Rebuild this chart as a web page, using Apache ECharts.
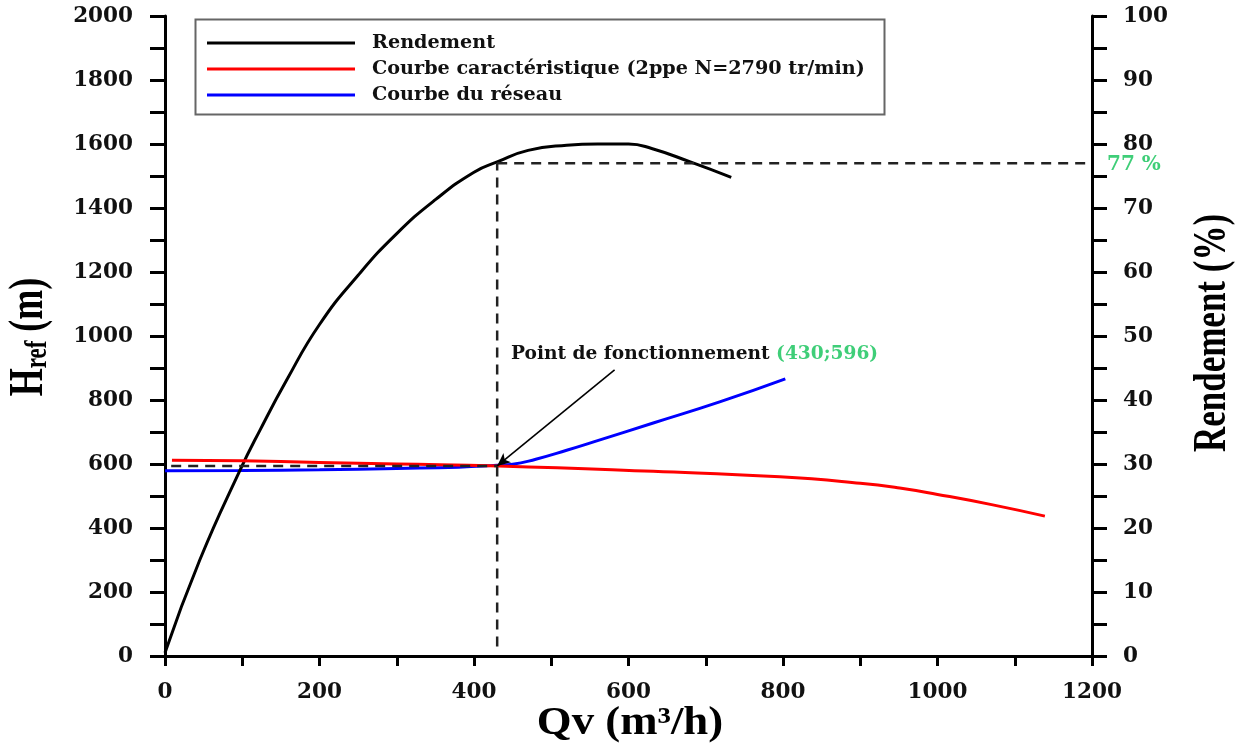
<!DOCTYPE html>
<html lang="fr">
  <head>
    <meta charset="UTF-8" />
    <title>Point de fonctionnement</title>
    <script src="https://cdn.jsdelivr.net/npm/echarts@6/dist/echarts.min.js"></script>
    <style>
      html,
      body {
        margin: 0;
        padding: 0;
        background: #fff;
      }
      #chart {
        width: 1246px;
        height: 744px;
      }
    </style>
  </head>
  <body>
    <div id="chart"></div>
    <script>
      // Rendement (%) en fonction du débit Qv (m3/h)
      const rendement = [
        [0, 0.5], [45, 15], [97, 29], [123, 35.3], [157, 43], [200, 51.8],
        [250, 59.5], [300, 66], [350, 71.3], [400, 75.6], [430, 77.2],
        [470, 79], [520, 79.8], [560, 80], [600, 80], [630, 79.3],
        [680, 77.2], [733, 74.8],
      ];
      // Courbe caractéristique H (m)
      const caracteristique = [
        [9, 612], [100, 610], [200, 605], [300, 600], [432, 594], [632, 577],
        [796, 560], [900, 540], [951, 525], [1000, 505], [1070, 473], [1139, 437],
      ];
      // Courbe du réseau H (m)
      const reseau = [
        [0, 579], [100, 580], [200, 582], [300, 586], [380, 590], [430, 596],
        [450, 599], [480, 615], [520, 643], [560, 673], [632, 728], [718, 794],
        [803, 866],
      ];
      // point de fonctionnement et repères pointillés
      const opPoint = [430, 594];
      const opRendement = 77;
      const arrowFrom = [582, 894];
      const dashH = [[8, 594], [430, 594]];
      const dashV = [[430, 1.5], [430, 77]];
      const dash77 = [[430, 77], [1200, 77]];

      const names = [
        "Rendement",
        "Courbe caractéristique (2ppe N=2790 tr/min)",
        "Courbe du réseau",
      ];

      const tickFont = {
        fontFamily: "DejaVu Serif",
        fontWeight: "bold",
        fontSize: 21.5,
        color: "#111",
        formatter: (v) => String(v),
      };
      const titleFont = "Liberation Serif";
      const green = "#3fce78";

      const dashStyle = { color: "#222", width: 2.5, type: [10, 7] };

      const chart = echarts.init(document.getElementById("chart"));

      const option = {
        backgroundColor: "#fff",
        animation: false,
        grid: { left: 165, right: 154, top: 16, bottom: 88 },
        legend: {
          orient: "vertical",
          left: 202,
          top: 27,
          padding: 5,
          itemWidth: 148,
          itemHeight: 3,
          itemGap: 4,
          icon: "rect",
          data: names,
          textStyle: {
            fontFamily: "DejaVu Serif",
            fontWeight: "bold",
            fontSize: 19.2,
            lineHeight: 22,
            color: "#111",
            padding: [0, 0, 0, 12],
          },
        },
        xAxis: {
          type: "value",
          min: 0,
          max: 1200,
          interval: 200,
          axisLine: { show: true, lineStyle: { color: "#000", width: 3 } },
          axisTick: { show: true, length: 10, lineStyle: { width: 3 } },
          minorTick: { show: true, splitNumber: 2, length: 10, lineStyle: { color: "#000", width: 3 } },
          splitLine: { show: false },
          axisLabel: Object.assign({ margin: 25 }, tickFont),
        },
        yAxis: [
          {
            type: "value",
            min: 0,
            max: 2000,
            interval: 200,
            axisLine: { show: true, lineStyle: { color: "#000", width: 3 } },
            axisTick: { show: true, length: 15, lineStyle: { width: 3 } },
            minorTick: { show: true, splitNumber: 2, length: 15, lineStyle: { color: "#000", width: 3 } },
            splitLine: { show: false },
            axisLabel: Object.assign({ margin: 32 }, tickFont),
          },
          {
            type: "value",
            position: "right",
            min: 0,
            max: 100,
            interval: 10,
            axisLine: { show: true, lineStyle: { color: "#000", width: 3 } },
            axisTick: { show: true, length: 15, lineStyle: { width: 3 } },
            minorTick: { show: true, splitNumber: 2, length: 15, lineStyle: { color: "#000", width: 3 } },
            splitLine: { show: false },
            axisLabel: Object.assign({ margin: 31 }, tickFont),
          },
        ],
        series: [
          {
            name: names[0],
            type: "line",
            yAxisIndex: 1,
            data: rendement,
            smooth: 0.5,
            showSymbol: false,
            color: "#000",
            lineStyle: { width: 3 },
          },
          {
            name: names[1],
            type: "line",
            data: caracteristique,
            smooth: 0.5,
            showSymbol: false,
            color: "#ff0000",
            lineStyle: { width: 3 },
            z: 3,
          },
          {
            name: names[2],
            type: "line",
            data: reseau,
            smooth: 0.5,
            showSymbol: false,
            color: "#0000ff",
            lineStyle: { width: 3 },
            z: 2,
          },
          {
            name: "dashH",
            type: "line",
            data: dashH,
            showSymbol: false,
            lineStyle: dashStyle,
            color: "#222",
            z: 4,
          },
          {
            name: "dashV",
            type: "line",
            yAxisIndex: 1,
            data: dashV,
            showSymbol: false,
            lineStyle: dashStyle,
            color: "#222",
            z: 4,
          },
          {
            name: "dash77",
            type: "line",
            yAxisIndex: 1,
            data: dash77,
            showSymbol: false,
            lineStyle: dashStyle,
            color: "#222",
            z: 4,
            endLabel: {
              show: true,
              formatter: opRendement + " %",
              distance: 15,
              offset: [0, 2],
              color: green,
              fontFamily: "DejaVu Serif",
              fontWeight: "bold",
              fontSize: 20,
            },
          },
          {
            name: "fleche",
            type: "line",
            data: [],
            showSymbol: false,
            markLine: {
              silent: true,
              symbol: ["none", "arrow"],
              symbolSize: [9, 13],
              label: { show: false },
              lineStyle: { color: "#000", width: 1.6, type: "solid" },
              data: [[{ coord: arrowFrom }, { coord: opPoint }]],
            },
          },
        ],
        graphic: [
          {
            type: "rect",
            left: 193,
            top: 17,
            shape: { width: 689, height: 95 },
            style: { fill: "none", stroke: "#666", lineWidth: 2 },
            z: 0,
          },
          {
            type: "text",
            left: 511,
            top: 345,
            style: {
              text: "{a|Point de fonctionnement }{b|(" + opPoint[0] + ";596)}",
              rich: {
                a: { fontFamily: "DejaVu Serif", fontWeight: "bold", fontSize: 18.6, fill: "#111" },
                b: { fontFamily: "DejaVu Serif", fontWeight: "bold", fontSize: 18.6, fill: green },
              },
            },
          },
          {
            // Href (m)
            type: "text",
            x: 54,
            y: 337,
            rotation: Math.PI / 2,
            scaleY: 1.35,
            style: {
              text: "{h|H}{r|ref}{h| (m)}",
              align: "center",
              verticalAlign: "bottom",
              rich: {
                h: { fontFamily: titleFont, fontWeight: "bold", fontSize: 36, fill: "#000", lineHeight: 36, verticalAlign: "bottom" },
                r: { fontFamily: titleFont, fontWeight: "bold", fontSize: 23, fill: "#000", lineHeight: 36, verticalAlign: "bottom" },
              },
            },
          },
          {
            // Rendement (%)
            type: "text",
            x: 1236,
            y: 333,
            rotation: Math.PI / 2,
            scaleY: 1.3,
            style: {
              text: "Rendement (%)",
              align: "center",
              verticalAlign: "bottom",
              fontFamily: titleFont,
              fontWeight: "bold",
              fontSize: 35,
              fill: "#000",
            },
          },
          {
            // Qv (m3/h)
            type: "text",
            x: 630,
            y: 724,
            scaleX: 1.12,
            style: {
              text: "Qv (m³/h)",
              align: "center",
              verticalAlign: "middle",
              fontFamily: titleFont,
              fontWeight: "bold",
              fontSize: 40,
              fill: "#000",
            },
          },
        ],
      };

      chart.setOption(option);
    </script>
  </body>
</html>
